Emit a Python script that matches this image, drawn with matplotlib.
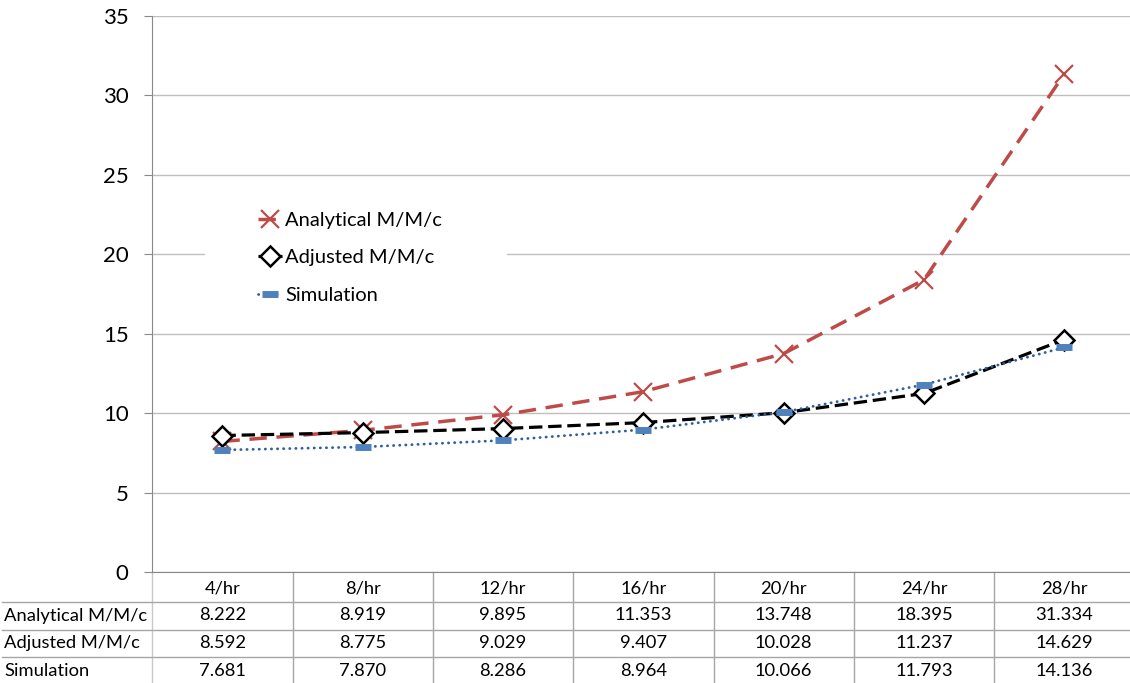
import matplotlib

matplotlib.use("Agg")
import matplotlib.pyplot as plt
from matplotlib.patches import Rectangle
from matplotlib.transforms import blended_transform_factory

plt.rcParams["font.family"] = ["Lato", "DejaVu Sans"]

categories = ["4/hr", "8/hr", "12/hr", "16/hr", "20/hr", "24/hr", "28/hr"]
analytical = [8.222, 8.919, 9.895, 11.353, 13.748, 18.395, 31.334]
adjusted = [8.592, 8.775, 9.029, 9.407, 10.028, 11.237, 14.629]
simulation = [7.681, 7.870, 8.286, 8.964, 10.066, 11.793, 14.136]
series_names = ["Analytical M/M/c", "Adjusted M/M/c", "Simulation"]

W, H = 1130, 683
fig = plt.figure(figsize=(W / 100, H / 100), dpi=100)

# plot area in pixels: x 152..1134, y 16..572
left, right, top, bottom = 152.3, 1134.4, 16, 572
ax = fig.add_axes([left / W, (H - bottom) / H, (right - left) / W, (bottom - top) / H])

xs = list(range(len(categories)))
red = "#BE4B48"
blue = "#4F81BD"

ax.plot(xs, analytical, color=red, lw=2.5, linestyle=(0, (5, 2.8)),
        marker="x", markersize=13, markeredgewidth=1.6, label=series_names[0], zorder=3)
ax.plot(xs, adjusted, color="black", lw=2.3, linestyle=(0, (4.2, 1.8)),
        marker="D", markersize=10, markerfacecolor="white", markeredgecolor="black",
        markeredgewidth=1.8, label=series_names[1], zorder=4)
ax.plot(xs, simulation, color="#2F5F9E", lw=2.0, linestyle=(0, (0.1, 2.1)), dash_capstyle="round",
        marker="_", markersize=11, markeredgewidth=5, markeredgecolor=blue,
        label=series_names[2], zorder=5)

ax.set_xlim(-0.5, len(categories) - 0.5)
ax.set_ylim(0, 35)
ax.set_yticks(range(0, 36, 5))
ax.set_xticks([])
ax.grid(axis="y", color="#BFBFBF", lw=1.0)
ax.set_axisbelow(True)
for side in ("top", "right"):
    ax.spines[side].set_visible(False)
ax.spines["left"].set_color("#888888")
ax.spines["bottom"].set_color("#888888")
ax.tick_params(axis="y", length=6, color="#888888", labelsize=16, pad=11)

# white area behind legend hiding the gridline
ax.add_patch(Rectangle(((205 - left) / (right - left), (bottom - 315) / (bottom - top)),
                       302 / (right - left), 120 / (bottom - top),
                       transform=ax.transAxes, facecolor="white", edgecolor="none", zorder=1.5))

leg = ax.legend(loc="upper left", bbox_to_anchor=((258 - left) / (right - left), (bottom - 212) / (bottom - top)),
                frameon=False, fontsize=14.5, handlelength=1.2, handletextpad=0.15,
                labelspacing=1.0, borderpad=0, borderaxespad=0)

# data table below the chart
tr = blended_transform_factory(ax.transData, fig.transFigure)
fy = lambda px: (H - px) / H
fx = lambda px: px / W
line_c = "#A6A6A6"

for i, cat in enumerate(categories):
    ax.text(i, fy(588), cat, transform=tr, ha="center", va="center", fontsize=13.2, clip_on=False)
rows = [analytical, adjusted, simulation]
row_y = [615.5, 643, 671]
for name, vals, y in zip(series_names, rows, row_y):
    fig.text(fx(4), fy(y), name, ha="left", va="center", fontsize=13.2)
    for i, v in enumerate(vals):
        ax.text(i, fy(y), f"{v:.3f}", transform=tr, ha="center", va="center", fontsize=13.2, clip_on=False)

for y in (602, 629.5, 657):
    fig.add_artist(plt.Line2D([fx(2), 1], [fy(y), fy(y)], color=line_c, lw=1))
for k in range(len(categories) + 1):
    xb = k - 0.5
    ax.plot([xb, xb], [fy(572), fy(685)], transform=tr, color=line_c if k else "#C8C8C8",
            lw=1, clip_on=False)

fig.savefig("out.png", dpi=100)
